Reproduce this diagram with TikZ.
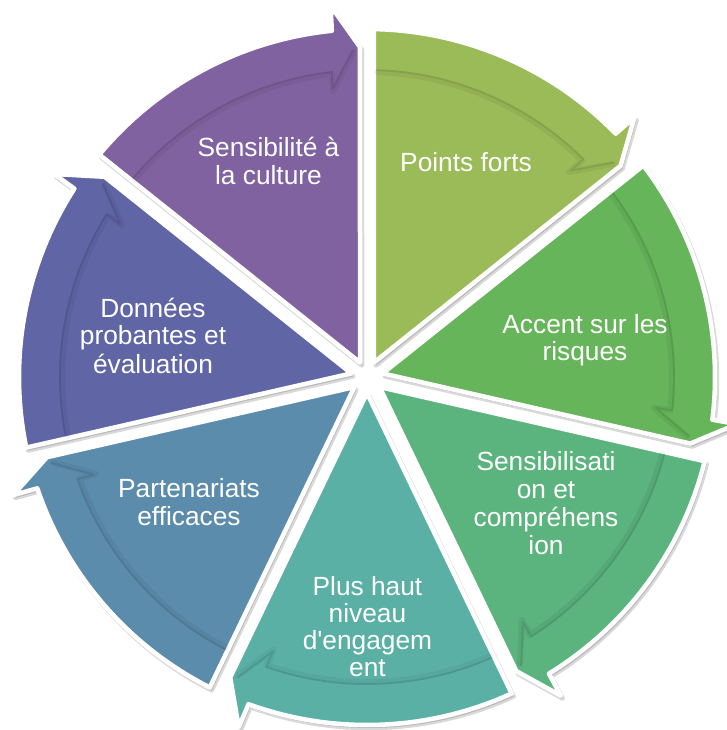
\documentclass[tikz,border=0pt]{standalone}
\usepackage{fontspec}
\setmainfont{Liberation Sans}
\definecolor{c0}{HTML}{9BBB59}
\definecolor{c1}{HTML}{66B55A}
\definecolor{c2}{HTML}{5BB37D}
\definecolor{c3}{HTML}{5BB0A6}
\definecolor{c4}{HTML}{5C8CAC}
\definecolor{c5}{HTML}{6065A6}
\definecolor{c6}{HTML}{8062A0}
\newcommand\mystrut{\rule[-8.2pt]{0pt}{27.3pt}}
\begin{document}
\begin{tikzpicture}[x=1pt,y=1pt,
  lbl/.style={text=white, align=center, inner sep=0pt, font=\fontsize{26.3}{27.3}\selectfont},
  segfill/.style={draw=white, line width=4.5pt, line join=round},
  segshadow/.style={fill=black, draw=black, line width=4.5pt, opacity=0.15, line join=round},
  bandshade/.style={draw=black, line join=round, line cap=round}]
\fill[white] (-367,-353) rectangle (360,377);
\useasboundingbox (-367,-353) rectangle (360,377);
% drop shadows
\foreach \i in {0,...,6}{
  \pgfmathsetmacro\A{90-\i*360/7}
  \pgfmathsetmacro\B{\A-360/7}
  \pgfmathsetmacro\Aa{\A-25.714}
  \pgfmathsetmacro\As{\A-1.15}
  \pgfmathsetmacro\Be{\B+5.8}
  \pgfmathsetmacro\Bb{\B+5.6}
  \pgfmathsetmacro\Bt{\B+1.22}
  \filldraw[segshadow, shift={(2pt,-3pt)}] (\Aa:16.1pt) -- (\As:348pt)
     arc[start angle=\As, end angle=\Be, radius=348pt] -- (\Bb:373pt) -- (\Bt:330pt) -- cycle;
}
% coloured segments
\foreach \i in {0,...,6}{
  \pgfmathsetmacro\A{90-\i*360/7}
  \pgfmathsetmacro\B{\A-360/7}
  \pgfmathsetmacro\Aa{\A-25.714}
  \pgfmathsetmacro\As{\A-1.15}
  \pgfmathsetmacro\Be{\B+5.8}
  \pgfmathsetmacro\Bb{\B+5.6}
  \pgfmathsetmacro\Bt{\B+1.22}
  \filldraw[fill=c\i, segfill] (\Aa:16.1pt) -- (\As:348pt)
     arc[start angle=\As, end angle=\Be, radius=348pt] -- (\Bb:373pt) -- (\Bt:330pt) -- cycle;
}
% shading under the arrow bands
\foreach \i in {0,...,6}{
  \pgfmathsetmacro\A{90-\i*360/7}
  \pgfmathsetmacro\B{\A-360/7}
  \pgfmathsetmacro\Ai{\A-1.8}
  \pgfmathsetmacro\Bi{\B+6.6}
  \pgfmathsetmacro\Bj{\B+6.8}
  \pgfmathsetmacro\Bt{\B+2.4}
  \draw[bandshade, line width=6pt, opacity=0.05] (\Ai:305pt)
     arc[start angle=\Ai, end angle=\Bi, radius=305pt] -- (\Bj:288pt) -- (\Bt:325pt);
  \draw[bandshade, line width=1.8pt, opacity=0.09] (\Ai:307pt)
     arc[start angle=\Ai, end angle=\Bi, radius=307pt] -- (\Bj:290pt) -- (\Bt:327pt);
}
% labels
\node[lbl] (t1) at (99,210.5) {\mystrut Points forts};
\node[lbl] (t2) at (218,35.5) {\mystrut Accent sur les\\\mystrut risques};
\node[lbl] (t3) at (179,-130) {\mystrut Sensibilisati\\\mystrut on et\\\mystrut compréhens\\\mystrut ion};
\node[lbl] (t4) at (0.5,-253.5) {\mystrut Plus haut\\\mystrut niveau\\\mystrut d\textquotesingle engagem\\\mystrut ent};
\node[lbl] (t5) at (-178,-129) {\mystrut Partenariats\\\mystrut efficaces};
\node[lbl] (t6) at (-214,37.5) {\mystrut Données\\\mystrut probantes et\\\mystrut évaluation};
\node[lbl] (t7) at (-98.5,212) {\mystrut Sensibilité à\\\mystrut la culture};
\end{tikzpicture}
\end{document}
